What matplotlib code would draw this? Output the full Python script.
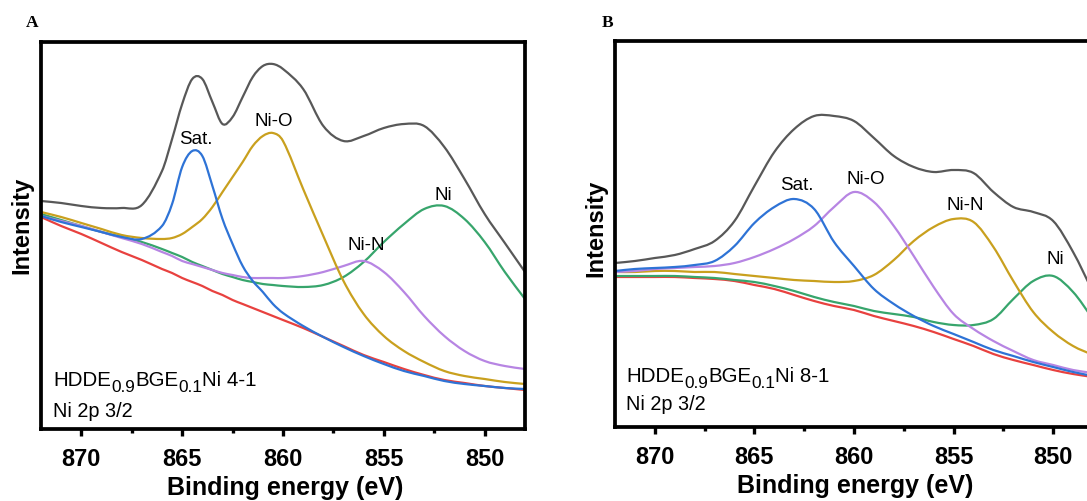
import matplotlib
matplotlib.use("Agg")
import matplotlib.pyplot as plt
from matplotlib.ticker import MultipleLocator, NullLocator
from matplotlib.path import Path
from matplotlib.patches import PathPatch

plt.rcParams['font.family'] = ['Liberation Sans', 'DejaVu Sans']

# ---------------- data (intensity in a.u.) ----------------
energy_a = [872, 871, 870, 869, 868, 867, 866, 865.5, 865, 864.5, 864, 863.5, 863, 862.5, 862,
            861.5, 861, 860.5, 860, 859, 858, 857, 856, 855, 854, 853, 852, 851, 850, 849, 848]
envelope_a = [228, 226, 223, 221, 221, 224, 258, 290, 325, 350, 350, 327, 305, 312, 332,
              352, 363, 365, 360, 340, 303, 288, 293, 301, 305, 303, 282, 250, 215, 186, 157]
sat_a = [213, 207, 202, 197, 192, 190, 203, 225, 262, 278, 273, 243, 210, 185, 163,
         148, 137, 125, 116, 103, 92, 82, 73, 65, 58, 53, 48, 45, 43, 41, 40]
nio_a = [217, 212, 206, 200, 194, 191, 190, 191, 195, 202, 210, 222, 237, 252, 267,
         283, 293, 296, 288, 240, 193, 148, 115, 93, 78, 67, 58, 53, 50, 47, 45]
nin_a = [213, 208, 203, 197, 191, 185, 177, 173, 168, 165, 162, 159, 156, 154, 152,
         151, 151, 151, 151, 153, 157, 163, 168, 157, 137, 113, 93, 78, 68, 63, 60]
ni_a = [215, 209, 203, 197, 192, 187, 180, 176, 172, 167, 163, 159, 155, 152, 149,
        147, 145, 144, 143, 142, 144, 152, 167, 187, 205, 220, 223, 210, 187, 157, 130]
background_a = [212, 203, 195, 186, 177, 169, 160, 156, 151, 147, 143, 138, 134, 129, 125,
                121, 117, 113, 109, 101, 92, 83, 74, 67, 60, 54, 49, 46, 43, 41, 39]

energy_b = [872, 871, 870, 869, 868, 867, 866, 865, 864, 863, 862, 861, 860,
            859, 858, 857, 856, 855, 854, 853, 852, 851, 850, 849, 848]
envelope_b = [164, 166, 169, 172, 178, 186, 206, 241, 275, 298, 311, 311, 306,
              289, 271, 260, 255, 257, 254, 235, 220, 215, 206, 175, 135]
sat_b = [156, 158, 159, 160, 162, 166, 181, 204, 220, 228, 218, 185, 161,
         138, 123, 111, 101, 93, 85, 77, 71, 65, 60, 55, 51]
nio_b = [155, 156, 158, 159, 160, 161, 164, 170, 178, 188, 201, 220, 235,
         225, 201, 171, 140, 113, 98, 86, 76, 67, 62, 57, 54]
nin_b = [155, 155, 156, 156, 155, 155, 153, 151, 149, 147, 146, 145, 146,
         152, 167, 186, 200, 208, 205, 180, 146, 115, 95, 81, 72]
ni_b = [151, 151, 151, 151, 150, 149, 147, 145, 141, 136, 130, 125, 121,
        116, 113, 110, 105, 102, 102, 108, 128, 146, 151, 135, 108]
background_b = [150, 150, 150, 150, 149, 148, 146, 142, 138, 132, 126, 121, 117,
                111, 106, 101, 95, 88, 81, 73, 67, 62, 57, 53, 50]

peak_labels = ["Sat.", "Ni-O", "Ni-N", "Ni"]
sample_a = [("HDDE", False), ("0.9", True), ("BGE", False), ("0.1", True), ("Ni 4-1", False)]
sample_b = [("HDDE", False), ("0.9", True), ("BGE", False), ("0.1", True), ("Ni 8-1", False)]
region_label = "Ni 2p 3/2"
xlabel = "Binding energy (eV)"
ylabel = "Intensity"

# ---------------- colours ----------------
C_ENV = '#585858'
C_SAT = '#2e73d6'
C_GOLD = '#c9a01e'
C_PURP = '#b785e3'
C_GREEN = '#37a56c'
C_RED = '#e8413f'

W, H = 1087, 502
fig = plt.figure(figsize=(W / 100, H / 100), dpi=100)


def px_axes(l, t, r, b):
    return [l / W, 1 - b / H, (r - l) / W, (b - t) / H]


axA = fig.add_axes(px_axes(41, 43, 525, 430))
axB = fig.add_axes(px_axes(615, 42, 1093, 428))


def style(ax, ytop):
    ax.set_xlim(872, 848)
    ax.set_ylim(0, ytop)
    ax.xaxis.set_major_locator(MultipleLocator(5))
    ax.xaxis.set_minor_locator(MultipleLocator(2.5))
    ax.yaxis.set_major_locator(NullLocator())
    ax.yaxis.set_minor_locator(NullLocator())
    ax.tick_params(axis='x', which='major', direction='out', length=5, width=2.4,
                   pad=8, labelsize=17)
    ax.tick_params(axis='x', which='minor', direction='out', length=3, width=2.4)
    for sp in ax.spines.values():
        sp.set_linewidth(2.7)
    for lab in ax.get_xticklabels():
        lab.set_fontweight('bold')


style(axA, 387)
style(axB, 386)


def smooth_line(ax, xs, ys, color, lw=1.6):
    """Draw a smooth (cubic Hermite / Bezier) line through the read points."""
    n = len(xs)
    m = []
    for i in range(n):
        if i == 0:
            m.append((ys[1] - ys[0]) / (xs[1] - xs[0]))
        elif i == n - 1:
            m.append((ys[-1] - ys[-2]) / (xs[-1] - xs[-2]))
        else:
            m.append((ys[i + 1] - ys[i - 1]) / (xs[i + 1] - xs[i - 1]))
    verts = [(xs[0], ys[0])]
    codes = [Path.MOVETO]
    for i in range(n - 1):
        h = xs[i + 1] - xs[i]
        verts += [(xs[i] + h / 3, ys[i] + m[i] * h / 3),
                  (xs[i + 1] - h / 3, ys[i + 1] - m[i + 1] * h / 3),
                  (xs[i + 1], ys[i + 1])]
        codes += [Path.CURVE4] * 3
    patch = PathPatch(Path(verts, codes), fill=False, edgecolor=color, lw=lw,
                      joinstyle='round', capstyle='round')
    ax.add_patch(patch)


smooth_line(axA, energy_a, background_a, C_RED)
smooth_line(axA, energy_a, ni_a, C_GREEN)
smooth_line(axA, energy_a, nin_a, C_PURP)
smooth_line(axA, energy_a, nio_a, C_GOLD)
smooth_line(axA, energy_a, sat_a, C_SAT)
smooth_line(axA, energy_a, envelope_a, C_ENV)

smooth_line(axB, energy_b, background_b, C_RED)
smooth_line(axB, energy_b, ni_b, C_GREEN)
smooth_line(axB, energy_b, nin_b, C_GOLD)
smooth_line(axB, energy_b, nio_b, C_PURP)
smooth_line(axB, energy_b, sat_b, C_SAT)
smooth_line(axB, energy_b, envelope_b, C_ENV)

fs_lab = 13.5
for (x, y), s in zip([(864.33, 290), (860.45, 308), (855.87, 184), (852.04, 235)], peak_labels):
    axA.text(x, y, s, fontsize=fs_lab, ha='center', va='center')
for (x, y), s in zip([(862.89, 242), (859.41, 248), (854.41, 223), (849.87, 168)], peak_labels):
    axB.text(x, y, s, fontsize=fs_lab, ha='center', va='center')


def sub_text(ax, x, y, pieces, size_main=14.8, size_sub=12.4):
    prev = ax.text(x, y, pieces[0][0], fontsize=size_main, va='baseline', ha='left')
    prev_sub = pieces[0][1]
    for txt, is_sub in pieces[1:]:
        if is_sub and not prev_sub:
            off = -3.8
        elif (not is_sub) and prev_sub:
            off = 3.8
        else:
            off = 0
        prev = ax.annotate(txt, xy=(1, 0), xycoords=prev, xytext=(0, off),
                           textcoords='offset points',
                           fontsize=size_sub if is_sub else size_main,
                           va='bottom', ha='left')
        prev_sub = is_sub


sub_text(axA, 871.39, 44, sample_a)
axA.text(871.39, 13, region_label, fontsize=14.3, va='baseline', ha='left')
sub_text(axB, 871.43, 46, sample_b)
axB.text(871.43, 18, region_label, fontsize=14.3, va='baseline', ha='left')

# axis titles
fig.text(285 / W, 1 - 495 / H, xlabel, fontsize=18, fontweight='bold', ha='center', va='baseline')
fig.text(855 / W, 1 - 493 / H, xlabel, fontsize=18, fontweight='bold', ha='center', va='baseline')
fig.text(22 / W, 1 - 225 / H, ylabel, fontsize=17, fontweight='bold', rotation=90, ha='center', va='center')
fig.text(596 / W, 1 - 228 / H, ylabel, fontsize=17, fontweight='bold', rotation=90, ha='center', va='center')

# panel letters
fig.text(32 / W, 1 - 23 / H, "A", fontsize=12.5, fontweight='bold', family='Liberation Serif', ha='center', va='center')
fig.text(608 / W, 1 - 23 / H, "B", fontsize=12.5, fontweight='bold', family='Liberation Serif', ha='center', va='center')

fig.savefig("out.png", dpi=100)
